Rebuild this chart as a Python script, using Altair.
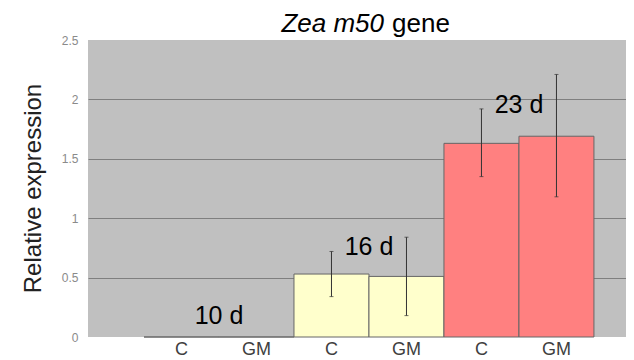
import altair as alt
import pandas as pd

# ---- data ----
groups = ["10 d", "10 d", "16 d", "16 d", "23 d", "23 d"]
treatments = ["C", "GM", "C", "GM", "C", "GM"]
values = [0.0, 0.0, 0.53, 0.51, 1.63, 1.69]
err_low = [None, None, 0.34, 0.18, 1.35, 1.18]
err_high = [None, None, 0.72, 0.84, 1.92, 2.21]
group_colors = {"10 d": "#c0c0c0", "16 d": "#ffffcc", "23 d": "#ff8080"}

day_labels = ["10 d", "16 d", "23 d"]
day_label_y = [0.18, 0.76, 1.95]

title_italic = "Zea m50"
title_plain = "gene"
y_title = "Relative expression"
y_ticks = [0, 0.5, 1, 1.5, 2, 2.5]

keys = [f"{g}|{t}" for g, t in zip(groups, treatments)]
df = pd.DataFrame({
    "key": keys,
    "group": groups,
    "value": values,
    "lo": err_low,
    "hi": err_high,
})
lab_df = pd.DataFrame({
    "key": [f"{d}|GM" for d in day_labels],
    "text": day_labels,
    "y": day_label_y,
})

FONT = "Liberation Sans"

xscale = alt.Scale(domain=keys, paddingInner=0, paddingOuter=0.587, align=0.636)
yscale = alt.Scale(domain=[0, 2.5], nice=False)

xenc = alt.X("key:N", scale=xscale, sort=keys, axis=alt.Axis(
    title=None, labelExpr="split(datum.label, '|')[1]", labelAngle=0,
    domain=False, ticks=False, labelPadding=3, labelFontSize=18,
    labelColor="#404040", labelFont=FONT, grid=False))

yaxis = alt.Axis(
    values=y_ticks, format="~g", domain=False, ticks=False,
    labelPadding=10, labelFontSize=12, labelColor="#8a8a8a", labelFont=FONT,
    title=y_title, titleFontSize=24, titleFont=FONT, titleFontWeight="normal",
    titleColor="#222222", titleX=-55, titleY=148, titleBaseline="middle",
    titleAngle=270,
    grid=True,
    gridColor={"condition": {"test": "datum.value == 0 || datum.value == 2.5",
                             "value": "transparent"},
               "value": "#7f7f7f"},
    gridWidth=1.2,
)

bars = alt.Chart(df).mark_bar(stroke="#666666", strokeWidth=1).encode(
    x=xenc,
    y=alt.Y("value:Q", scale=yscale, axis=yaxis),
    color=alt.Color("group:N", scale=alt.Scale(domain=list(group_colors.keys()),
                                               range=list(group_colors.values())),
                    legend=None),
)

err_df = df.dropna(subset=["lo", "hi"])
rules = alt.Chart(err_df).mark_rule(color="#333333", strokeWidth=1).encode(
    x=alt.X("key:N", scale=xscale, sort=keys),
    y=alt.Y("lo:Q", scale=yscale),
    y2="hi:Q",
)
caps_lo = alt.Chart(err_df).mark_tick(color="#333333", size=4, thickness=1).encode(
    x=alt.X("key:N", scale=xscale, sort=keys),
    y=alt.Y("lo:Q", scale=yscale),
)
caps_hi = alt.Chart(err_df).mark_tick(color="#333333", size=4, thickness=1).encode(
    x=alt.X("key:N", scale=xscale, sort=keys),
    y=alt.Y("hi:Q", scale=yscale),
)

day_text = alt.Chart(lab_df).mark_text(fontSize=25, font=FONT, color="black",
                                       align="center", baseline="middle").encode(
    x=alt.X("key:N", scale=xscale, sort=keys, bandPosition=0),
    y=alt.Y("y:Q", scale=yscale),
    text="text:N",
)

tdf = pd.DataFrame({"a": [title_italic], "b": [title_plain]})
t1 = alt.Chart(tdf).mark_text(fontSize=26, font=FONT, fontStyle="italic",
                              align="right", baseline="alphabetic",
                              color="black").encode(
    x=alt.value(296), y=alt.value(-8), text="a:N")
t2 = alt.Chart(tdf).mark_text(fontSize=26, font=FONT, align="left",
                              baseline="alphabetic", color="black").encode(
    x=alt.value(304), y=alt.value(-8), text="b:N")

chart = alt.layer(bars, rules, caps_lo, caps_hi, day_text, t1, t2).properties(
    width=538, height=297,
    autosize=alt.AutoSizeParams(type="none"),
    padding={"left": 80, "top": 32, "right": 0, "bottom": 23},
).configure(font=FONT).configure_view(fill="#c0c0c0", stroke=None)

chart.save("out.html", embed_options={"renderer": "svg", "actions": False})
